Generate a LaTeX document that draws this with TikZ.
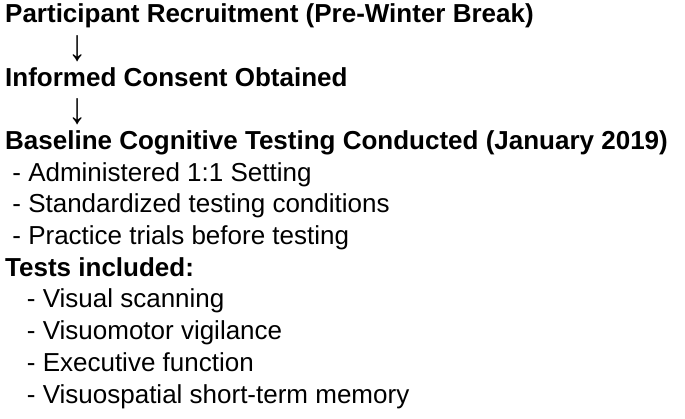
\documentclass[tikz,border=0pt]{standalone}
\usepackage{fontspec}
\setmainfont{Liberation Sans}
\usepackage{graphicx}
\usepackage{xcolor}
\usetikzlibrary{positioning}

\newcommand{\giu}{\scalebox{1.4}[1.7]{↓}}

\tikzset{
  riga/.style={anchor=base west,inner sep=0pt,font=\fontsize{26}{31.7}\selectfont},
  titolo/.style={riga,font=\fontsize{26}{31.7}\selectfont\bfseries},
  freccia/.style={anchor=center,inner sep=0pt,font=\fontsize{26}{31.7}\selectfont}
}

\begin{document}
\begin{tikzpicture}[x=1pt,y=-1pt]
%linee guida
%\foreach \y in {22.7,54.4,...,403.1}
%   \draw [help lines] (0,\y) -- (685,\y);
\useasboundingbox (0,0) rectangle (685,419);

% fasi
\node[titolo] at (5,22.7) (a) {Participant Recruitment (Pre-Winter Break)};
\node[freccia] at (77.5,49) (f1) {\giu};
\node[titolo] at (5,86.1) (b) {Informed Consent Obtained};
\node[freccia] at (77.5,111.5) (f2) {\giu};
\node[titolo] at (5,149.5) (c) {Baseline Cognitive Testing Conducted (January 2019)};

% condizioni
\node[riga] at (12.2,181.2) (c1) {- Administered 1:1 Setting};
\node[riga] at (12.2,212.9) (c2) {- Standardized testing conditions};
\node[riga] at (12.2,244.6) (c3) {- Practice trials before testing};

% test
\node[titolo] at (5,276.3) (d) {Tests included:};
\node[riga] at (26.7,308.0) (d1) {- Visual scanning};
\node[riga] at (26.7,339.7) (d2) {- Visuomotor vigilance};
\node[riga] at (26.7,371.4) (d3) {- Executive function};
\node[riga] at (26.7,403.1) (d4) {- Visuospatial short-term memory};
\end{tikzpicture}
\end{document}
